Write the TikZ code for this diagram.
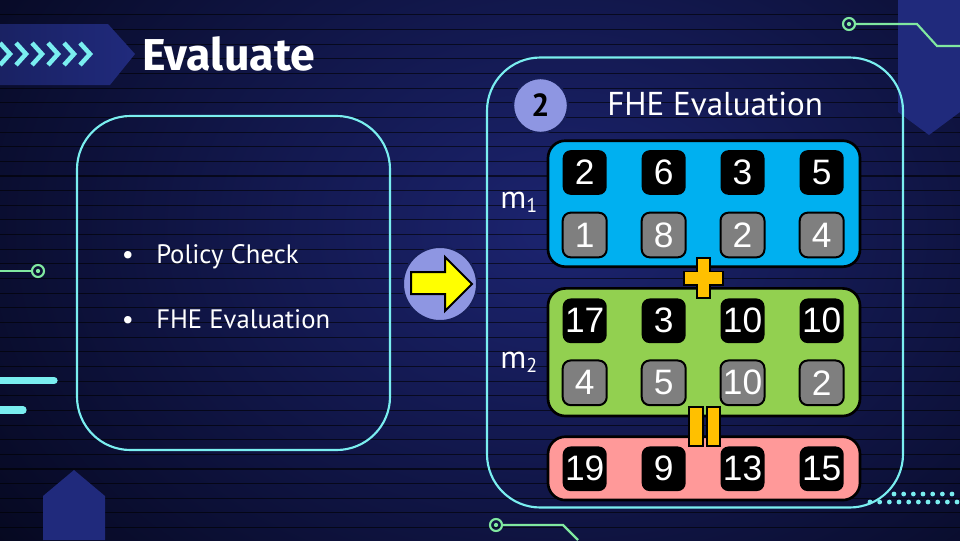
\documentclass[tikz,border=0pt]{standalone}
\usepackage{fontspec}
\setmainfont{PT Sans}
\newfontfamily\titlefont{Fira Sans}
\newfontfamily\numfont{Liberation Sans}
\definecolor{bgmid}{HTML}{1C2470}
\definecolor{bgdark}{HTML}{04061A}
\definecolor{banner}{HTML}{202A7C}
\definecolor{cyanline}{HTML}{7AEEF0}
\definecolor{circuit}{HTML}{80E8A0}
\definecolor{peri}{HTML}{8E96E2}
\definecolor{navyedge}{HTML}{161E5A}
\definecolor{boxblue}{HTML}{00B0F0}
\definecolor{boxgreen}{HTML}{92D050}
\definecolor{boxpink}{HTML}{FF9999}
\definecolor{cellgray}{HTML}{7F7F7F}
\definecolor{gold}{HTML}{FFC000}
\definecolor{arrowyellow}{HTML}{FFFF00}
\begin{document}
\begin{tikzpicture}[x=0.75pt,y=-0.75pt,
  panel/.style={draw=cyanline,line width=1.6pt,rounded corners=40pt,minimum width=#1},
  databox/.style={draw=black,line width=2pt,rounded corners=13pt,minimum width=234pt},
  cellblack/.style={fill=black,rounded corners=6pt,minimum width=33pt,minimum height=33.5pt,inner sep=0pt,text=white,font=\numfont\fontsize{26.5}{26.5}\selectfont},
  cellgrey/.style={cellblack,fill=cellgray,draw=black,line width=1.5pt},
  circuitline/.style={draw=circuit,line width=1.6pt},
  ring/.style={draw=circuit,line width=1.6pt,circle,minimum size=9pt,inner sep=0pt},
  cyandot/.style={fill=cyanline,circle,minimum size=3.6pt,inner sep=0pt},
  goldshape/.style={fill=gold,draw=black,line width=1.3pt},
  bodytext/.style={text=white,inner sep=0pt,anchor=base west},
]
\useasboundingbox (0,0) rectangle (960,540);
% background
\fill[bgdark] (0,0) rectangle (960,540);
\begin{scope}
\clip (0,0) rectangle (960,540);
\shade[inner color=bgmid,outer color=bgdark] (560,230) ellipse (760 and 560);
\foreach \k in {1,...,36}
  \draw[black,opacity=0.6,line width=0.8pt] (0,{14.65*\k+0.2}) -- (960,{14.65*\k+0.2});
\end{scope}
% decorations
\fill[banner] (898,0) -- (960,0) -- (960,112) -- (929,135) -- (898,112) -- cycle;
\fill[banner] (43,540) -- (43,496) -- (74,470) -- (105,496) -- (105,540) -- cycle;
\shade[left color=banner!80!black,right color=banner] (0,24) -- (108,24) -- (135,54) -- (110,85) -- (0,85) -- cycle;
\foreach \t in {10,26,42,58,74,90}
  \draw[cyanline,line width=3.4pt,line join=miter] (\t-10,43) -- (\t,54) -- (\t-10,65);
\node[ring] (c1) at (849,24) {};
\fill[circuit] (c1) circle (1.6pt);
\coordinate (c1a) at (917,24); \coordinate (c1b) at (937,46); \coordinate (c1c) at (960,46);
\draw[circuitline] (c1) -- (c1a) -- (c1b) -- (c1c);
\node[ring] (c2) at (38,271) {};
\fill[circuit] (c2) circle (1.6pt);
\coordinate (c2a) at (0,271);
\draw[circuitline] (c2a) -- (c2);
\node[ring] (c3) at (496,525) {};
\fill[circuit] (c3) circle (1.6pt);
\coordinate (c3a) at (563,525); \coordinate (c3b) at (578,540);
\draw[circuitline] (c3) -- (c3a) -- (c3b);
\draw[cyanline,line width=5.5pt,line cap=round] (-10,380.5) -- (54,380.5);
\draw[cyanline,line width=5.5pt,line cap=round] (-10,410) -- (23,410);
\foreach \i in {0,...,6} \node[cyandot] (da\i) at ({894+9.67*\i},494) {};
\foreach \i in {0,...,9} \node[cyandot] (db\i) at ({870+9.67*\i},502) {};
% title
\node[bodytext,font=\titlefont\bfseries\fontsize{33.5}{33.5}\selectfont] (title) at (142,70) {Evaluate};
% left panel
\node[panel=234.75pt,minimum height=250.5pt] (left) at (233.5,283) {};
\node[text=white,inner sep=0pt,anchor=base,font=\fontsize{20}{20}\selectfont] (b1) at (128,263) {\textbullet};
\node[bodytext,font=\fontsize{20}{20}\selectfont] (t1) at (156,263) {Policy Check};
\node[text=white,inner sep=0pt,anchor=base,font=\fontsize{20}{20}\selectfont] (b2) at (128,328) {\textbullet};
\node[bodytext,font=\fontsize{20}{20}\selectfont] (t2) at (156,328) {FHE Evaluation};
% arrow
\node[circle,fill=peri,draw=navyedge,line width=1.5pt,minimum size=55.5pt] (arr) at (440,284) {};
\draw[fill=arrowyellow,draw=black,line width=1.5pt,line join=miter] (411,272) -- (445,272) -- (445,257) -- (472,284) -- (445,311) -- (445,294) -- (411,294) -- cycle;
% right panel
\node[panel=312pt,minimum height=337.5pt] (right) at (695,282.5) {};
\node[circle,fill=peri,draw=navyedge,line width=1.5pt,minimum size=41pt,inner sep=0pt,font=\bfseries\fontsize{24}{24}\selectfont] (num) at (540.5,105.5) {2};
\node[bodytext,font=\fontsize{24.8}{24.8}\selectfont] (fhe) at (607,115) {FHE Evaluation};
\node[bodytext,font=\fontsize{24}{24}\selectfont] (m1) at (500,208) {m$_{\mbox{\fontsize{15}{15}\selectfont 1}}$};
\node[bodytext,font=\fontsize{24}{24}\selectfont] (m2) at (500,368) {m$_{\mbox{\fontsize{15}{15}\selectfont 2}}$};
% data boxes
\node[databox,fill=boxblue,minimum height=94.5pt] (bluebox) at (704,203.7) {};
\node[databox,fill=boxgreen,minimum height=95.7pt] (greenbox) at (704,352.2) {};
\node[databox,fill=boxpink,minimum height=47.5pt] (pinkbox) at (704,468.4) {};
% cells
\node[cellblack] (a1) at (584.7,172.5) {2};
\node[cellblack] (a2) at (663.7,172.5) {6};
\node[cellblack] (a3) at (742.5,172.5) {3};
\node[cellblack] (a4) at (821.7,172.5) {5};
\node[cellgrey] (b1c) at (584.7,235) {1};
\node[cellgrey] (b2c) at (663.7,235) {8};
\node[cellgrey] (b3c) at (742.5,235) {2};
\node[cellgrey] (b4c) at (821.7,235) {4};
\node[cellblack] (g1) at (584.7,320.8) {17};
\node[cellblack] (g2) at (663.7,320.8) {3};
\node[cellblack] (g3) at (742.5,320.8) {10};
\node[cellblack] (g4) at (821.7,320.8) {10};
\node[cellgrey] (h1) at (584.7,382.8) {4};
\node[cellgrey] (h2) at (663.7,382.8) {5};
\node[cellgrey] (h3) at (742.5,382.8) {10};
\node[cellgrey] (h4) at (821.7,382.8) {2};
\node[cellblack] (p1) at (584.7,468.8) {19};
\node[cellblack] (p2) at (663.7,468.8) {9};
\node[cellblack] (p3) at (742.5,468.8) {13};
\node[cellblack] (p4) at (821.7,468.8) {15};
% plus and equals
\draw[goldshape] (697,258) -- (710,258) -- (710,271.5) -- (723,271.5) -- (723,285) -- (710,285) -- (710,298) -- (697,298) -- (697,285) -- (684,285) -- (684,271.5) -- (697,271.5) -- cycle;
\draw[goldshape] (689.3,407.3) rectangle (702.7,446);
\draw[goldshape] (706.7,407.3) rectangle (720,446);
\end{tikzpicture}
\end{document}
